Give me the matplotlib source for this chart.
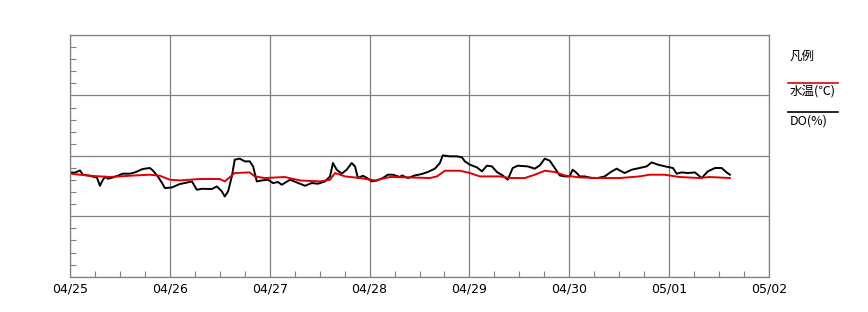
import numpy as np
import matplotlib
matplotlib.use("Agg")
import matplotlib.pyplot as plt
from matplotlib.lines import Line2D
from matplotlib.ticker import MultipleLocator

plt.rcParams['font.family'] = ['Noto Sans CJK JP', 'DejaVu Sans']

# horas desde 04/25 00:00 y valores
do_horas = [0, 1.2, 2.4, 3.1, 4.8, 6.5, 7.2, 7.7, 8.4, 9.1, 10.1, 11.5, 12.7, 14.4, 15.6,
            17.5, 19.2, 19.9, 21.1, 22.1, 22.8, 24.5, 26.4, 27.6, 29.3, 30.5, 31.7, 34.1,
            35.3, 36.5, 37.2, 38.0, 38.9, 39.6, 40.8, 42.0, 43.2, 44.0, 44.9, 46.1, 47.6,
            48.8, 50.0, 50.9, 52.9, 54.5, 56.5, 58.1, 59.6, 61.3, 62.5, 63.2, 64.1, 65.3,
            66.5, 67.7, 68.5, 69.2, 70.4, 71.4, 72.6, 73.8, 75.2, 76.4, 77.6, 79.3, 79.8,
            81.2, 82.9, 84.6, 86.0, 87.7, 88.9, 89.6, 91.3, 93.0, 94.2, 94.9, 96.1, 97.8,
            99.0, 100.2, 101.4, 102.6, 104.0, 105.2, 106.4, 107.6, 110.0, 111.7, 112.9,
            114.1, 115.3, 116.5, 117.7, 118.9, 120.1, 120.8, 121.8, 122.5, 123.7, 125.4,
            126.8, 128.5, 130.2, 131.4, 132.1, 133.3, 135.0, 136.9, 138.6, 139.8, 141.3,
            143.0, 144.9, 145.8, 147.0, 148.5, 150.2, 151.8, 153.3, 155.0, 156.6, 157.8,
            158.6]
do_valores = [17.26, 17.21, 17.59, 16.88, 16.71, 16.38, 15.05, 15.77, 16.55, 16.22, 16.38,
              16.71, 17.05, 17.05, 17.26, 17.83, 17.99, 17.59, 16.60, 15.55, 14.67, 14.77,
              15.34, 15.50, 15.77, 14.39, 14.55, 14.51, 14.94, 14.11, 13.28, 14.11, 16.60,
              19.37, 19.54, 19.09, 19.09, 18.26, 15.77, 15.93, 16.05, 15.50, 15.67, 15.22,
              16.05, 15.60, 15.05, 15.50, 15.39, 15.77, 16.60, 18.82, 17.71, 17.05, 17.71,
              18.82, 18.26, 16.33, 16.71, 16.33, 15.77, 15.93, 16.33, 16.88, 16.88, 16.50,
              16.76, 16.33, 16.76, 17.00, 17.33, 17.88, 18.82, 20.08, 19.92, 19.92, 19.75,
              19.09, 18.54, 18.09, 17.43, 18.37, 18.26, 17.33, 16.76, 16.05, 17.99, 18.37,
              18.26, 17.88, 18.42, 19.54, 19.20, 17.99, 16.76, 16.60, 16.60, 17.71, 17.16,
              16.60, 16.60, 16.33, 16.33, 16.60, 17.43, 17.88, 17.59, 17.16, 17.71, 17.99,
              18.26, 18.92, 18.54, 18.26, 17.99, 17.05, 17.26, 17.16, 17.26, 16.33, 17.43,
              17.99, 17.99, 17.26, 16.88]

temp_horas = [0, 4.8, 9.6, 14.4, 19.2, 21.6, 24.0, 26.4, 31.2, 36.0, 37.2, 39.6, 43.2, 44.4,
              46.8, 51.6, 55.3, 60.1, 62.5, 63.7, 66.1, 69.7, 73.3, 76.9, 81.7, 86.5, 88.2,
              90.1, 93.7, 96.1, 98.5, 103.3, 105.7, 109.3, 111.7, 114.1, 116.5, 118.9, 122.5,
              127.3, 132.1, 136.9, 139.3, 142.9, 146.5, 151.3, 153.7, 158.6]
temp_valores = [17.05, 16.71, 16.50, 16.71, 16.88, 16.71, 16.05, 15.93, 16.17, 16.17, 15.77,
                17.16, 17.26, 16.60, 16.33, 16.50, 15.93, 15.77, 16.05, 17.16, 16.60, 16.33,
                15.93, 16.50, 16.43, 16.33, 16.60, 17.54, 17.54, 17.16, 16.60, 16.60, 16.33,
                16.33, 16.88, 17.54, 17.33, 16.76, 16.43, 16.33, 16.33, 16.60, 16.88, 16.88,
                16.50, 16.33, 16.50, 16.33]

etiquetas_x = ['04/25', '04/26', '04/27', '04/28', '04/29', '04/30', '05/01', '05/02']

fig = plt.figure(figsize=(8.68, 3.12), dpi=100)
ax = fig.add_axes([0.0806, 0.1131, 0.8054, 0.7747])

gris = '#808080'
ax.plot(np.array(do_horas) / 24, do_valores, color='black', lw=1.4)
ax.plot(np.array(temp_horas) / 24, temp_valores, color='#e00000', lw=1.4)

ax.set_xlim(0, 7)
ax.set_ylim(0, 40)
ax.set_xticks(range(8))
ax.set_xticklabels(etiquetas_x, fontsize=9, family='DejaVu Sans')
ax.xaxis.set_minor_locator(MultipleLocator(0.25))
ax.set_yticks([0, 10, 20, 30, 40])
ax.set_yticklabels([])
ax.yaxis.set_minor_locator(MultipleLocator(2))
ax.tick_params(which='major', length=0, pad=4)
ax.tick_params(which='minor', direction='in', length=4, color=gris, width=0.8)
ax.tick_params(axis='x', which='minor', top=False)
ax.grid(True, which='major', color=gris, lw=0.9)
for s in ax.spines.values():
    s.set_color(gris)
    s.set_linewidth(0.9)

# leyenda a la derecha
fig.text(790 / 868, 1 - 56 / 312, '凡例', fontsize=9, va='center', ha='left')
fig.add_artist(Line2D([788 / 868, 838 / 868], [1 - 83 / 312] * 2, color='#e00000', lw=1.2))
fig.text(790 / 868, 1 - 91 / 312, '水温(℃)', fontsize=9, va='center', ha='left')
fig.add_artist(Line2D([788 / 868, 838 / 868], [1 - 112 / 312] * 2, color='black', lw=1.2))
fig.text(790 / 868, 1 - 121 / 312, 'DO(%)', fontsize=9, va='center', ha='left')

plt.savefig('out.png', dpi=100)
